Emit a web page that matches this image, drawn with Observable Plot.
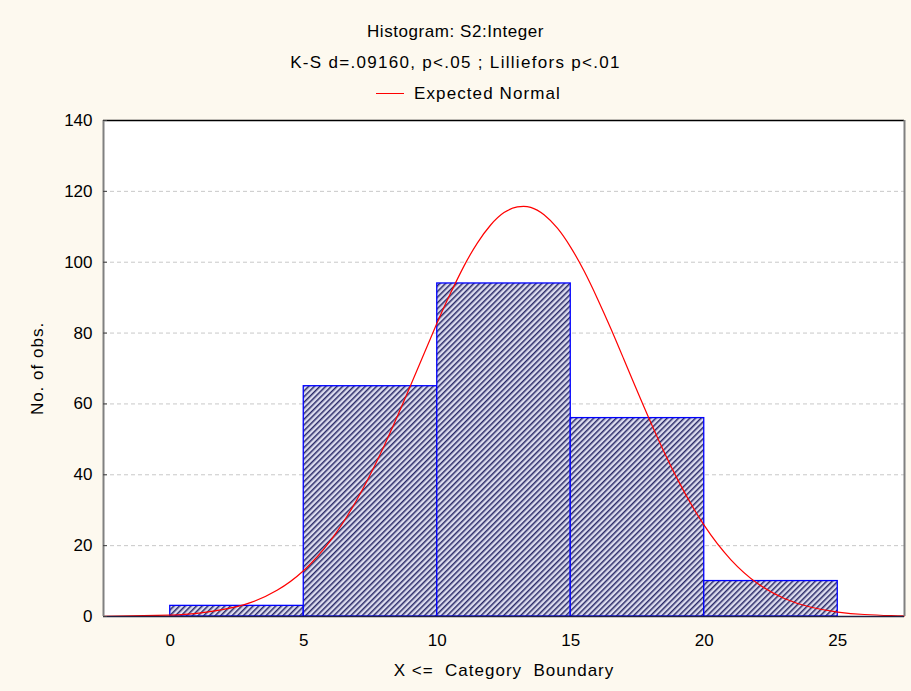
<!DOCTYPE html>
<html>
<head>
<meta charset="utf-8">
<script src="https://cdn.jsdelivr.net/npm/d3@7"></script>
<script src="https://cdn.jsdelivr.net/npm/@observablehq/plot@0.6"></script>
<style>
  html, body { margin: 0; padding: 0; background: #fdf9ef; }
  #wrap { position: relative; width: 911px; height: 691px; background: #fdf9ef; font-family: "Liberation Sans", Arial, sans-serif; color: #000; overflow: hidden; }
  .hline { position: absolute; left: 0; width: 911px; text-align: center; font-size: 17px; line-height: 20px; letter-spacing: 1.1px; }
  #chart { position: absolute; left: 0; top: 100px; }
  .legend-swatch { display: inline-block; width: 28px; height: 0; border-top: 1.2px solid #ff0000; vertical-align: middle; margin-right: 10px; position: relative; top: -1px; }
</style>
</head>
<body>
<div id="wrap">
  <div class="hline" style="top:22px; letter-spacing:0.55px">Histogram: S2:Integer</div>
  <div class="hline" style="top:53px; letter-spacing:1.3px">K-S d=.09160, p&lt;.05 ; Lilliefors p&lt;.01</div>
  <div class="hline" style="top:84px; left:13px"><span class="legend-swatch"></span>Expected Normal</div>
  <div id="chart"></div>
</div>
<script>
// Histogram bins (category boundaries) and counts
const binStart = [0, 5, 10, 15, 20];
const binEnd   = [5, 10, 15, 20, 25];
const counts   = [3, 65, 94, 56, 10];

// Expected normal curve
const curveX = [-2.5, 0, 1, 2, 3, 4, 5, 6, 7, 8, 9, 10, 10.5, 11, 11.5, 12, 12.5, 13, 13.5, 14, 14.5, 15, 15.5, 16, 16.5, 17, 18, 19, 20, 21, 22, 23, 24, 25, 26, 27, 27.5];
const curveY = [0.04, 0.4, 0.9, 2.0, 3.9, 7.4, 13.0, 21.4, 33.1, 48.0, 65.2, 83.0, 91.3, 98.9, 105.4, 110.5, 114.0, 115.6, 115.5, 113.4, 109.6, 104.2, 97.5, 89.7, 81.3, 72.4, 54.7, 38.7, 25.7, 16.0, 9.3, 5.1, 2.6, 1.25, 0.56, 0.24, 0.15];

const xTicks = [0, 5, 10, 15, 20, 25];
const yTicks = [0, 20, 40, 60, 80, 100, 120, 140];
const gridTicks = [20, 40, 60, 80, 100, 120];

const bars = binStart.map((s, i) => ({x1: s, x2: binEnd[i], y: counts[i]}));
const curve = curveX.map((x, i) => ({x, y: curveY[i]}));

const xDomain = [-2.5, 27.5];
const yDomain = [0, 140];

const plot = Plot.plot({
  width: 911,
  height: 591,
  marginTop: 20,
  marginBottom: 75,
  marginLeft: 103,
  marginRight: 7,
  style: {fontFamily: "'Liberation Sans', Arial, sans-serif", fontSize: "17px", background: "transparent", color: "#000"},
  x: {domain: xDomain},
  y: {domain: yDomain},
  marks: [
    Plot.frame({fill: "white", stroke: "none"}),
    Plot.ruleY(gridTicks, {stroke: "#c8c8c8", strokeDasharray: "4,3", strokeWidth: 1}),
    Plot.rectY(bars, {x1: "x1", x2: "x2", y: "y", fill: "url(#hatch)", stroke: "#0000ff", strokeWidth: 1.3}),
    Plot.line(curve, {x: "x", y: "y", stroke: "#ff0000", strokeWidth: 1.2, curve: "natural"}),
    Plot.ruleY([yDomain[1]], {stroke: "#000", strokeWidth: 1.5}),
    Plot.ruleY([0], {stroke: "#202040", strokeWidth: 1.5}),
    Plot.ruleX([xDomain[0]], {stroke: "#808080", strokeWidth: 2}),
    Plot.ruleX([xDomain[1]], {stroke: "#808080", strokeWidth: 2}),
    Plot.axisY(yTicks, {anchor: "left", tickSize: 0, tickPadding: 11, fontSize: 17, label: "No. of obs.", labelAnchor: "center", labelOffset: 73, labelArrow: "none"}),
    Plot.axisY(yTicks, {anchor: "left", tickSize: 4, dx: 4, text: null, label: null, stroke: "#404040"}),
    Plot.axisX(xTicks, {anchor: "bottom", tickSize: 0, tickPadding: 17, fontSize: 17, label: "X <=  Category  Boundary", labelAnchor: "center", labelOffset: 59, labelArrow: "none"})
  ]
});

// Hatch pattern for the bars
const ns = "http://www.w3.org/2000/svg";
const defs = document.createElementNS(ns, "defs");
defs.innerHTML = `
  <pattern id="hatch" patternUnits="userSpaceOnUse" width="4" height="4" patternTransform="rotate(45)">
    <rect x="0" y="0" width="4" height="4" fill="#dcdcee"></rect>
    <rect x="0" y="0" width="1.5" height="4" fill="#2a2a68"></rect>
  </pattern>`;
plot.insertBefore(defs, plot.firstChild);

// Slightly wider letter spacing on the axis titles, as in the reference
plot.querySelectorAll("[aria-label='x-axis label'] text, [aria-label='y-axis label'] text").forEach(t => t.style.letterSpacing = "1px");

document.getElementById("chart").appendChild(plot);
</script>
</body>
</html>
